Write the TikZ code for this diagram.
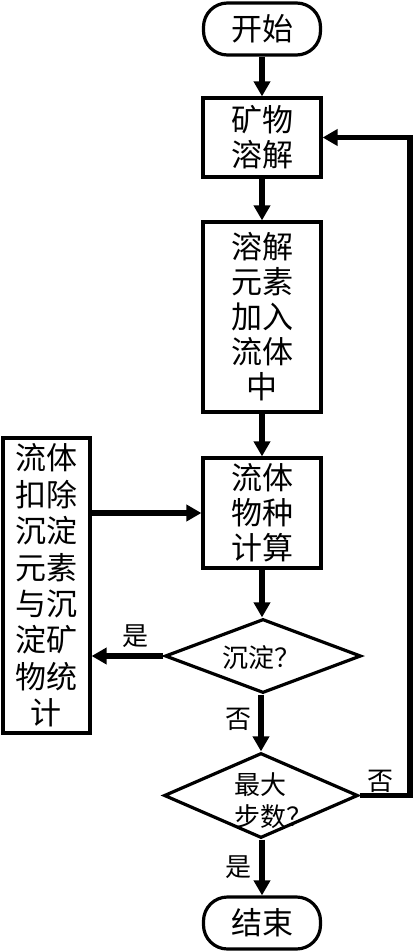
\documentclass[tikz,border=0pt]{standalone}
\usepackage{fontspec}
\setmainfont{Noto Sans CJK SC}
\usetikzlibrary{arrows.meta, shapes.geometric}
\begin{document}
\begin{tikzpicture}[x=1pt,y=-1pt,
  box/.style={draw, line width=3.2pt, inner sep=0pt, align=center, minimum width=118pt,
    font=\fontsize{31}{35}\selectfont},
  term/.style={draw, line width=3.2pt, inner sep=0pt, rounded corners=24pt,
    minimum width=117pt, minimum height=52pt, font=\fontsize{31}{35}\selectfont},
  dia/.style={draw, diamond, line width=3.2pt, inner sep=0pt},
  dtext/.style={align=left, inner sep=0pt, font=\fontsize{26}{32}\selectfont},
  lab/.style={inner sep=0pt, font=\fontsize{26}{28}\selectfont},
  arr/.style={line width=5.5pt, -{Triangle[length=15pt,width=16pt]}},
]
\useasboundingbox (0,0) rectangle (413,952);
\node[term] (start) at (262,29) {开始};
\node[box, minimum height=79pt] (b1) at (262,137.5) {矿物\\溶解};
\node[box, minimum height=190pt] (b2) at (262,317) {溶解\\元素\\加入\\流体\\中};
\node[box, minimum height=110pt] (b3) at (262,513) {流体\\物种\\计算};
\node[box, minimum width=87pt, minimum height=295pt, font=\fontsize{31}{36.4}\selectfont] (bl) at (46.5,585.5) {流体\\扣除\\沉淀\\元素\\与沉\\淀矿\\物统\\计};
\node[dia, minimum width=196pt, minimum height=74pt] (d1) at (263,656) {};
\node[dtext, anchor=west] (d1t) at (222,658) {沉淀？};
\node[dia, minimum width=194pt, minimum height=85pt] (d2) at (261,795.5) {};
\node[dtext, anchor=west] (d2t) at (234,801) {最大\\步数？};
\node[term] (end) at (262,923) {结束};
\coordinate (rt) at (410,795.5);
\draw[arr] (start) -- (b1);
\draw[arr] (b1) -- (b2);
\draw[arr] (b2) -- (b3);
\draw[arr] (b3.south) -- (b3.south |- d1.north);
\draw[arr] (d1.south -| d2.north) -- (d2.north);
\draw[arr] (d2.south -| end.north) -- (end.north);
\draw[arr] (d1.west) -- (bl.east |- d1.west);
\draw[arr] (bl.east |- b3.west) -- (b3.west);
\draw[arr, rounded corners=0pt] (d2.east) -- (rt) |- (b1.east);
\node[lab] (yes1) at (135,636) {是};
\node[lab] (no1) at (238,719) {否};
\node[lab] (no2) at (380,781) {否};
\node[lab] (yes2) at (238,867) {是};
\end{tikzpicture}
\end{document}
